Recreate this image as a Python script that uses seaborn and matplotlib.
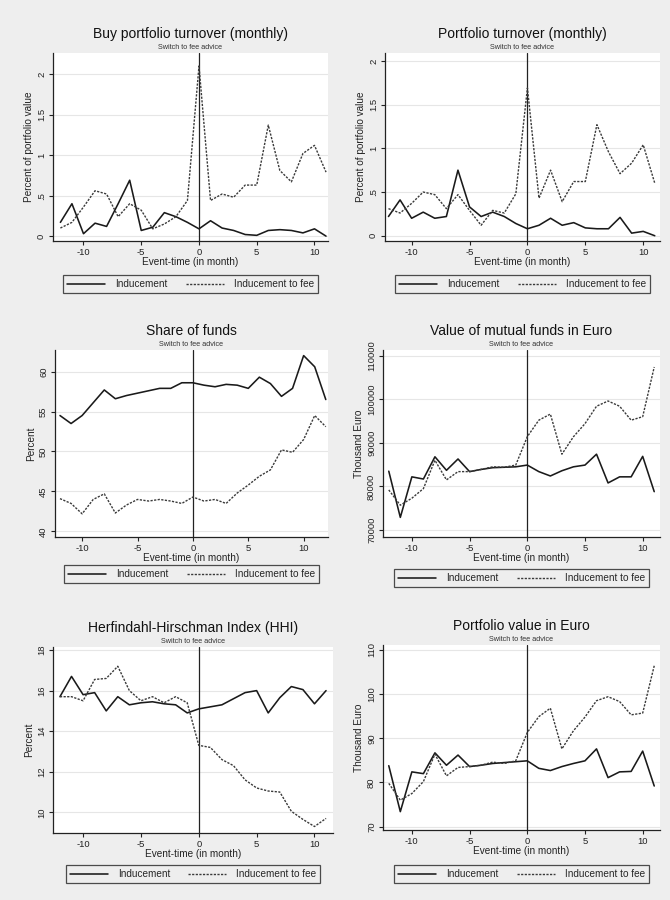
import matplotlib
matplotlib.use("Agg")
import matplotlib.pyplot as plt
import pandas as pd
import seaborn as sns

# Event time in months relative to the switch to fee-based advice
months = list(range(-12, 12))
months_share = list(range(-12, 13))

# Buy portfolio turnover (monthly), percent of portfolio value
buy_turnover_ind = [0.17, 0.40, 0.03, 0.16, 0.12, 0.40, 0.69, 0.07, 0.11, 0.29, 0.24, 0.17,
                    0.09, 0.19, 0.10, 0.07, 0.02, 0.01, 0.07, 0.08, 0.07, 0.04, 0.09, 0.00]
buy_turnover_fee = [0.10, 0.17, 0.36, 0.56, 0.52, 0.24, 0.40, 0.32, 0.09, 0.15, 0.24, 0.44,
                    2.10, 0.44, 0.52, 0.48, 0.63, 0.63, 1.37, 0.81, 0.67, 1.02, 1.12, 0.79]

# Portfolio turnover (monthly), percent of portfolio value
turnover_ind = [0.22, 0.41, 0.20, 0.27, 0.20, 0.22, 0.75, 0.33, 0.22, 0.27, 0.22, 0.14,
                0.08, 0.12, 0.20, 0.12, 0.15, 0.09, 0.08, 0.08, 0.21, 0.03, 0.05, 0.00]
turnover_fee = [0.31, 0.26, 0.37, 0.50, 0.47, 0.31, 0.47, 0.29, 0.12, 0.29, 0.26, 0.48,
                1.69, 0.43, 0.75, 0.39, 0.62, 0.62, 1.27, 0.96, 0.71, 0.83, 1.04, 0.60]

# Share of funds, percent
share_ind = [54.5, 53.5, 54.5, 56.1, 57.7, 56.6, 57.0, 57.3, 57.6, 57.9, 57.9, 58.6,
             58.6, 58.3, 58.1, 58.4, 58.3, 57.9, 59.3, 58.5, 56.9, 57.9, 62.0, 60.6, 56.5]
share_fee = [44.1, 43.5, 42.2, 44.0, 44.7, 42.3, 43.3, 44.0, 43.8, 44.0, 43.8, 43.5,
             44.3, 43.8, 44.0, 43.5, 44.8, 45.8, 46.9, 47.7, 50.2, 49.9, 51.5, 54.5, 53.1]

# Value of mutual funds in Euro (thousand euro)
funds_ind = [83500, 72900, 82200, 81700, 86800, 83700, 86300, 83400, 83900, 84300, 84400, 84500,
             84900, 83400, 82400, 83600, 84500, 84900, 87400, 80800, 82200, 82200, 86900, 78800]
funds_fee = [79200, 75700, 77300, 79500, 86000, 81500, 83400, 83400, 83900, 84500, 84400, 84900,
             91400, 95200, 96600, 87400, 91400, 94400, 98400, 99600, 98400, 95200, 96000, 107400]

# Herfindahl-Hirschman Index, percent
hhi_ind = [15.7, 16.7, 15.8, 15.9, 15.0, 15.7, 15.3, 15.4, 15.45, 15.35, 15.3, 14.9,
           15.1, 15.2, 15.3, 15.6, 15.9, 16.0, 14.9, 15.65, 16.2, 16.05, 15.35, 16.0]
hhi_fee = [15.7, 15.7, 15.5, 16.55, 16.6, 17.2, 16.0, 15.5, 15.7, 15.4, 15.7, 15.4,
           13.3, 13.2, 12.6, 12.3, 11.6, 11.2, 11.05, 11.0, 10.05, 9.65, 9.3, 9.7]

# Portfolio value in Euro (thousand euro)
value_ind = [83.8, 73.4, 82.4, 82.0, 86.7, 83.9, 86.2, 83.6, 83.9, 84.3, 84.5, 84.7,
             84.9, 83.2, 82.7, 83.6, 84.3, 84.9, 87.6, 81.1, 82.4, 82.5, 87.1, 79.2]
value_fee = [79.8, 76.0, 77.5, 80.2, 86.4, 81.5, 83.4, 83.6, 83.9, 84.6, 84.3, 84.9,
             91.3, 94.9, 96.8, 87.6, 91.7, 94.8, 98.5, 99.4, 98.3, 95.3, 95.7, 106.4]

groups = ["Inducement", "Inducement to fee"]
x_ticks = [-10, -5, 0, 5, 10]

sns.set_theme(style="white")
plt.rcParams["font.family"] = ["Liberation Sans", "DejaVu Sans"]
plt.rcParams["axes.unicode_minus"] = False

BG = "#eeeeee"
W, H = 670, 900
fig = plt.figure(figsize=(W / 100, H / 100), dpi=100, facecolor=BG)


def panel(box, title, t, ind, fee, xlim, ylim, yticks, ylabels, ylabel, legend_top):
    left, top, right, bottom = box
    ax = fig.add_axes([left / W, 1 - bottom / H, (right - left) / W, (bottom - top) / H])
    ax.set_facecolor("white")

    df = pd.DataFrame({
        "t": list(t) * 2,
        "value": list(ind) + list(fee),
        "group": [groups[0]] * len(t) + [groups[1]] * len(t),
    })
    sns.lineplot(data=df, x="t", y="value", style="group", style_order=groups,
                 dashes={groups[0]: "", groups[1]: (1.6, 1.0)},
                 color="#1a1a1a", linewidth=1.15, ax=ax, legend=True)
    for ln in ax.get_lines():
        if ln.get_linestyle() not in ("-", "solid"):
            ln.set_color("#3a3a3a")
            ln.set_linewidth(1.0)

    ax.axvline(0, color="#222222", linewidth=0.9, zorder=1)

    ax.set_xlim(*xlim)
    ax.set_ylim(*ylim)
    ax.set_xticks(x_ticks)
    ax.set_yticks(yticks)
    ax.set_yticklabels(ylabels, rotation=90, va="center")
    ax.grid(axis="y", color="#e6e6e6", linewidth=0.8)
    ax.grid(axis="x", visible=False)
    for s in ("top", "right"):
        ax.spines[s].set_visible(False)
    for s in ("left", "bottom"):
        ax.spines[s].set_color("#222222")
        ax.spines[s].set_linewidth(0.9)
    ax.tick_params(axis="both", direction="out", length=3, width=0.8, color="#222222",
                   labelsize=6.8, labelcolor="#222222", pad=2, left=True, bottom=True)
    ax.set_xlabel("Event-time (in month)", fontsize=7.2, labelpad=0, color="#222222")
    ax.set_ylabel(ylabel, fontsize=7.2, labelpad=2, color="#222222")

    ax.set_title(title, fontsize=10, color="#111111", pad=11)
    ax.text(0.5, 1.012, "Switch to fee advice", transform=ax.transAxes,
            ha="center", va="bottom", fontsize=5.2, color="#333333")

    handles, labels = ax.get_legend_handles_labels()
    leg = ax.legend(handles, labels, loc="upper center",
                    bbox_to_anchor=((left + right) / 2 / W, 1 - legend_top / H),
                    bbox_transform=fig.transFigure, ncol=2, fontsize=7.2,
                    frameon=True, fancybox=False, edgecolor="#222222", facecolor=BG,
                    handlelength=3.8, handletextpad=1.0, columnspacing=1.8,
                    borderpad=0.4, borderaxespad=0)
    leg.get_frame().set_linewidth(0.9)
    return ax


panel((53, 53, 328, 241), "Buy portfolio turnover (monthly)", months,
      buy_turnover_ind, buy_turnover_fee, (-12.64, 11.17), (-0.06, 2.26),
      [0, 0.5, 1, 1.5, 2], ["0", ".5", "1", "1.5", "2"], "Percent of portfolio value", 275)

panel((385, 53, 660, 241), "Portfolio turnover (monthly)", months,
      turnover_ind, turnover_fee, (-12.3, 11.45), (-0.06, 2.09),
      [0, 0.5, 1, 1.5, 2], ["0", ".5", "1", "1.5", "2"], "Percent of portfolio value", 275)

panel((55, 350, 328, 537), "Share of funds", months_share,
      share_ind, share_fee, (-12.45, 12.2), (39.3, 62.7),
      [40, 45, 50, 55, 60], ["40", "45", "50", "55", "60"], "Percent", 565)

panel((383, 350, 660, 537), "Value of mutual funds in Euro", months,
      funds_ind, funds_fee, (-12.5, 11.5), (68400, 111300),
      [70000, 80000, 90000, 100000, 110000],
      ["70000", "80000", "90000", "100000", "110000"], "Thousand Euro", 569)

panel((53, 647, 333, 833), "Herfindahl-Hirschman Index (HHI)", months,
      hhi_ind, hhi_fee, (-12.6, 11.6), (8.98, 18.15),
      [10, 12, 14, 16, 18], ["10", "12", "14", "16", "18"], "Percent", 865)

panel((383, 645, 660, 830), "Portfolio value in Euro", months,
      value_ind, value_fee, (-12.5, 11.5), (69.25, 111.1),
      [70, 80, 90, 100, 110], ["70", "80", "90", "100", "110"], "Thousand Euro", 865)

fig.savefig("out.png", dpi=100, facecolor=BG)
